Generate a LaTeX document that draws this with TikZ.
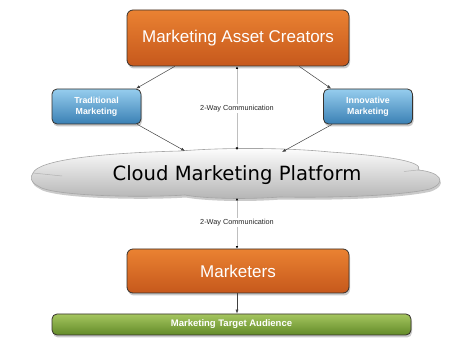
\documentclass[tikz,border=0pt]{standalone}
\usepackage{fontspec}
\setmainfont{Liberation Sans}
\newfontfamily\cloudfont{DejaVu Sans}
\usetikzlibrary{arrows.meta,shadows,calc}
\definecolor{orT}{RGB}{234,130,50}
\definecolor{orB}{RGB}{198,88,28}
\definecolor{blT}{RGB}{150,205,238}
\definecolor{blB}{RGB}{58,128,180}
\definecolor{grT}{RGB}{165,198,95}
\definecolor{grB}{RGB}{98,138,40}
\definecolor{edge}{RGB}{55,50,45}
\tikzset{
  shad/.style={drop shadow={shadow xshift=1pt,shadow yshift=-2.5pt,opacity=0.35,fill=black!60}},
  orbox/.style={shad,draw=edge,line width=0.8pt,rounded corners=6pt,top color=orT,bottom color=orB,
    text=white,font=\fontsize{17}{20}\selectfont,inner sep=0pt},
  blbox/.style={shad,draw=edge,line width=0.8pt,rounded corners=5pt,top color=blT,bottom color=blB,
    text=white,font=\bfseries\fontsize{8.8}{11}\selectfont,align=center,inner sep=0pt,
    minimum width=89pt,minimum height=35pt},
  grbox/.style={shad,draw=edge,line width=0.8pt,rounded corners=5pt,top color=grT,bottom color=grB,
    text=white,font=\bfseries\fontsize{9.5}{11}\selectfont,inner sep=0pt},
  arr/.style={draw=black!75,line width=0.5pt,-{Latex[length=4pt,width=3pt]}},
  twoway/.style={draw=black!25,line width=0.6pt,{Latex[length=2.5pt,width=2.5pt,black]}-{Latex[length=2.5pt,width=2.5pt,black]}},
  lbl/.style={fill=white,inner sep=1pt,font=\fontsize{7.3}{9}\selectfont,text=black!85}
}
\begin{document}
\begin{tikzpicture}[x=1pt,y=-1pt]
\useasboundingbox (0,0) rectangle (472,350);
% cloud
\path[shad,draw=black!35,line width=0.6pt,top color=white,bottom color=black!30]
  (33,173) .. controls (38,160) and (100,153) .. (180,151)
  .. controls (230,147) and (290,148) .. (330,152)
  .. controls (390,156) and (425,162) .. (418,170)
  .. controls (440,172) and (448,182) .. (430,189)
  .. controls (400,196) and (330,198) .. (280,197)
  .. controls (240,200) and (200,198) .. (185,195)
  .. controls (140,198) and (50,196) .. (38,186)
  .. controls (30,182) and (30,177) .. (33,173) -- cycle;
\draw[black!30,line width=0.5pt] (33,173) -- (62,176);
\draw[black!30,line width=0.5pt] (418,170) -- (404,171.5);
\node[font=\cloudfont\fontsize{19.6}{22}\selectfont,text=black] (cloud) at (237,175) {Cloud Marketing Platform};
\coordinate (cltop) at (237,150);
\coordinate (clbot) at (237,198);
\coordinate (clL) at (185,151);
\coordinate (clR) at (282,152);
% boxes
\node[orbox,minimum width=222pt,minimum height=56pt] (top) at (238,38) {Marketing Asset Creators};
\node[blbox] (trad) at (96.5,106.5) {Traditional\\Marketing};
\node[blbox] (innov) at (368,106.5) {Innovative\\Marketing};
\node[orbox,minimum width=222pt,minimum height=44pt] (mkt) at (238,271) {Marketers};
\node[grbox,minimum width=359pt,minimum height=21pt] (aud) at (231.5,324.5) {Marketing Target Audience};
% arrows
\draw[arr] ($(top.south west)!0.216!(top.south east)$) -- ($(trad.north west)!0.94!(trad.north east)$);
\draw[arr] ($(top.south west)!0.775!(top.south east)$) -- ($(innov.north west)!0.09!(innov.north east)$);
\draw[arr] ($(trad.south west)!0.955!(trad.south east)$) -- (clL);
\draw[arr] ($(innov.south west)!0.1!(innov.south east)$) -- (clR);
\draw[twoway] (top.south -| cltop) -- node[lbl] {2-Way Communication} (cltop);
\draw[twoway] (clbot) -- node[lbl,pos=0.48] {2-Way Communication} (mkt.north -| clbot);
\draw[arr] (mkt.south -| clbot) -- (aud.north -| clbot);
\end{tikzpicture}
\end{document}
